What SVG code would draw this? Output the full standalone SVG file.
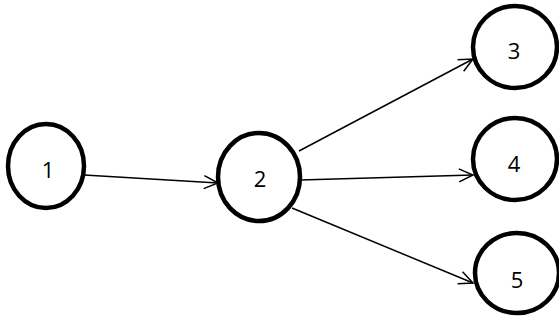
<svg xmlns="http://www.w3.org/2000/svg" width="559" height="320" viewBox="0 0 559 320">
<style>
.node{fill:#fff;stroke:#000;stroke-width:4.5}
.lbl{font-family:"Open Sans","Liberation Sans",sans-serif;font-size:22px;fill:#000;text-anchor:middle;dominant-baseline:central}
.edge{stroke:#000;stroke-width:1.5;fill:none;marker-end:url(#arr)}
</style>
<defs>
<marker id="arr" markerUnits="userSpaceOnUse" markerWidth="20" markerHeight="20" viewBox="0 0 20 20" refX="18" refY="10" orient="auto">
<path d="M4,3.5 L18,10 L4,16.5" fill="none" stroke="#000" stroke-width="1.5"/>
</marker>
</defs>
<rect width="559" height="320" fill="#fff"/>
<g id="connectors">
<line class="edge" x1="84" y1="175" x2="218" y2="183"/>
<line class="edge" x1="299" y1="151" x2="473" y2="59"/>
<line class="edge" x1="300" y1="180" x2="473" y2="175"/>
<line class="edge" x1="292" y1="208" x2="473" y2="283"/>
</g>
<g id="n1"><ellipse class="node" cx="46" cy="166" rx="38" ry="42"/><text class="lbl" x="48" y="169">1</text></g>
<g id="n2"><ellipse class="node" cx="259" cy="177" rx="41" ry="44"/><text class="lbl" x="260" y="178">2</text></g>
<g id="n3"><ellipse class="node" cx="515" cy="47" rx="42" ry="41"/><text class="lbl" x="514" y="50">3</text></g>
<g id="n4"><ellipse class="node" cx="515" cy="159" rx="42" ry="41"/><text class="lbl" x="514" y="163">4</text></g>
<g id="n5"><ellipse class="node" cx="517" cy="273" rx="42" ry="40"/><text class="lbl" x="517" y="279">5</text></g>
</svg>
